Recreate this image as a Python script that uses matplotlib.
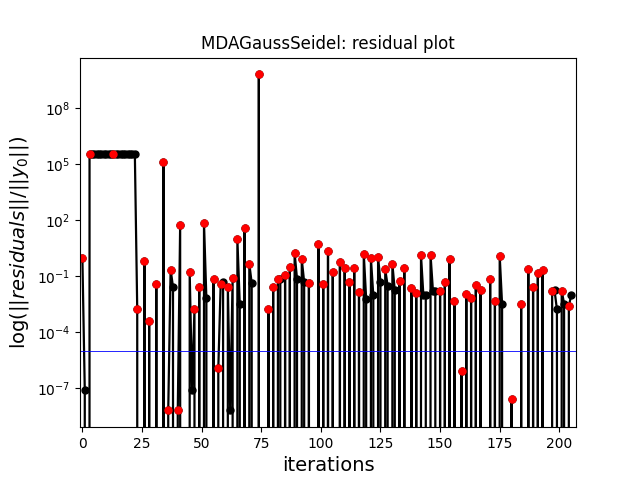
import matplotlib
matplotlib.use("Agg")
import matplotlib.pyplot as plt
import numpy as np

n_iterations = 206
tolerance = 1e-5

# iterations with a non-zero residual (all others are exactly zero)
residual_iters = [
    0, 1, 3, 4, 5, 6, 7, 8, 9, 10, 11, 12, 13, 14, 15, 16, 17, 18, 19, 20, 21, 22,
    23, 26, 28, 31, 34, 36, 37, 38, 40, 41, 45, 46, 47, 49, 51, 52, 55, 57, 58, 59,
    61, 62, 63, 65, 66, 68, 70, 71, 74, 78, 80, 82, 83, 85, 87, 89, 90, 92, 93, 95,
    99, 101, 103, 105, 108, 110, 112, 114, 116, 118, 119, 121, 122, 124, 125, 127,
    128, 130, 131, 133, 135, 138, 140, 142, 143, 144, 146, 147, 148, 150, 152, 154,
    156, 159, 161, 163, 165, 167, 171, 173, 175, 176, 180, 184, 187, 189, 191, 193,
    197, 198, 199, 201, 202, 204, 205,
]
residual_values = [
    1.0, 8.5e-8, 3.8e5, 3.8e5, 3.8e5, 3.8e5, 3.8e5, 3.8e5, 3.8e5, 3.8e5, 3.8e5, 3.8e5,
    3.6e5, 3.6e5, 3.6e5, 3.6e5, 3.6e5, 3.6e5, 3.6e5, 3.6e5, 3.6e5, 3.6e5,
    1.7e-3, 0.66, 4e-4, 0.041, 1.3e5, 6.6e-9, 0.23, 0.027, 6.6e-9, 54, 0.17, 8.5e-8,
    1.7e-3, 0.027, 72, 6.6e-3, 0.069, 1.2e-6, 0.041, 0.05,
    0.026, 6.6e-9, 0.081, 9.5, 3.3e-3, 39, 0.48, 0.044, 6.6e9, 1.7e-3, 0.027, 0.076,
    0.076, 0.12, 0.32, 1.8, 0.076, 0.81, 0.05, 0.044,
    5.4, 0.041, 2.3, 0.18, 0.56, 0.27, 0.05, 0.27, 0.0145, 1.6, 6.5e-3, 0.93, 9.5e-3,
    1.07, 0.05, 0.24,
    0.032, 0.46, 0.018, 0.059, 0.28, 0.025, 0.013, 1.35, 9.5e-3, 9.5e-3, 1.45, 0.017,
    0.017, 0.016, 0.05, 0.81,
    4.6e-3, 8.1e-7, 0.011, 6.6e-3, 0.033, 0.019, 0.069, 4.8e-3, 1.3, 3.3e-3, 2.7e-8,
    3.3e-3, 0.26, 0.026, 0.15, 0.22,
    0.016, 0.018, 1.7e-3, 0.017, 3.5e-3, 2.6e-3, 0.01,
]
# iterations where a new MDA run starts (red markers)
red_iters = [
    0, 3, 13, 23, 26, 28, 31, 34, 36, 37, 40, 41, 45, 47, 49, 51, 55, 57, 58, 61, 63,
    65, 68, 70, 74, 78, 80, 82, 85, 87, 89, 92, 95, 99, 101, 103, 105, 108, 110, 112,
    114, 116, 118, 121, 124, 127, 130, 133, 135, 138, 140, 142, 146, 150, 152, 154,
    156, 159, 161, 163, 165, 167, 171, 173, 175, 180, 184, 187, 189, 191, 193, 197,
    201, 204,
]

history = np.zeros(n_iterations)
history[residual_iters] = residual_values
iterations = np.arange(n_iterations)

fig, ax = plt.subplots(figsize=(6.4, 4.8), dpi=100)
ax.plot(iterations, history, color="black", linewidth=1.6, marker="o", markersize=5)
ax.plot(red_iters, history[red_iters], "o", color="red", markersize=5)
ax.axhline(tolerance, color="blue", linewidth=0.6)
ax.set_yscale("log")
ax.set_xlim(-1, n_iterations + 1)
ax.set_title("MDAGaussSeidel: residual plot")
ax.set_xlabel("iterations", fontsize=14)
ax.set_ylabel(r"$\log(||residuals||/||y_0||)$", fontsize=14)
fig.savefig("out.png", dpi=100)
